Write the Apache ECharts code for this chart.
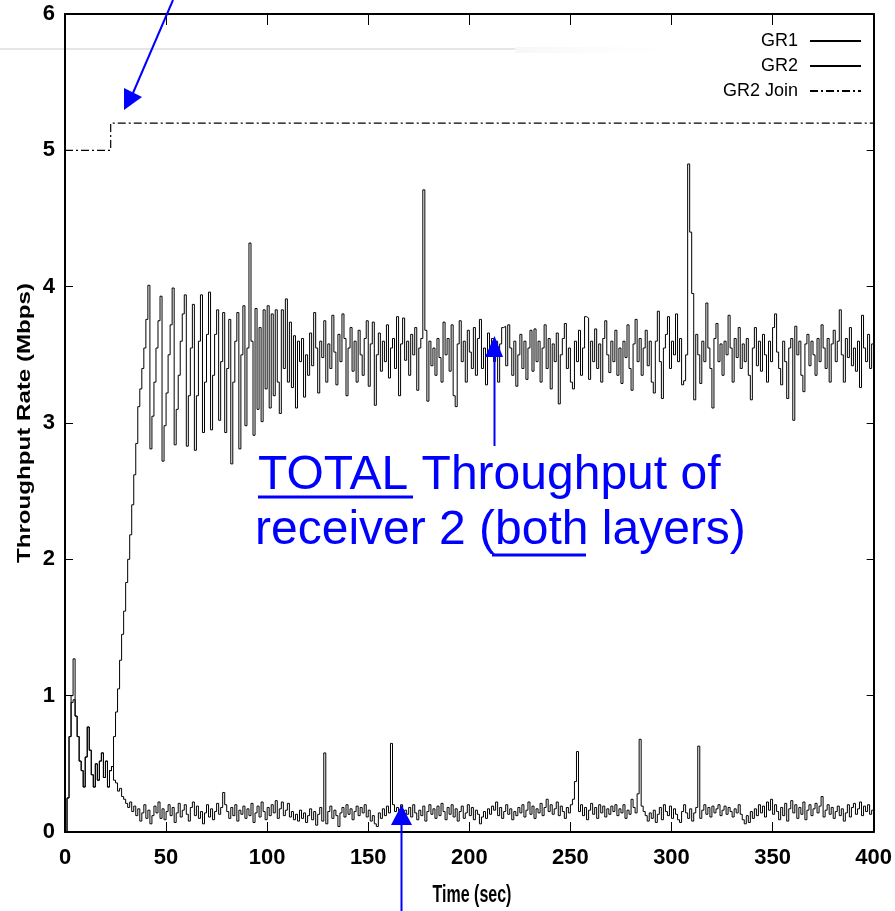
<!DOCTYPE html>
<html>
<head>
<meta charset="utf-8">
<script src="https://cdn.jsdelivr.net/npm/echarts@6/dist/echarts.min.js"></script>
<style>
html, body { margin: 0; padding: 0; background: #fff; }
#chart { width: 895px; height: 911px; }
</style>
</head>
<body>
<div id="chart"></div>
<script>
// one sample per second, t = 0 .. 400
const STEP = 1;

const gr1 = [
  0, 0.25, 0.7, 1.0, 1.27, 0.85, 0.7, 0.52, 0.45, 0.33,
  0.55, 0.77, 0.6, 0.42, 0.33, 0.5, 0.38, 0.52, 0.58, 0.4,
  0.52, 0.33, 0.45, 0.48, 0.38, 0.36, 0.3, 0.32, 0.26, 0.24,
  0.21, 0.18, 0.22, 0.15, 0.19, 0.12, 0.17, 0.08, 0.14, 0.2,
  0.1, 0.16, 0.06, 0.12, 0.19, 0.14, 0.22, 0.1, 0.17, 0.09,
  0.15, 0.2, 0.12, 0.18, 0.07, 0.14, 0.21, 0.11, 0.16, 0.2,
  0.13, 0.08, 0.18, 0.22, 0.12, 0.19, 0.1, 0.15, 0.06, 0.14,
  0.2, 0.11, 0.17, 0.09, 0.15, 0.21, 0.13, 0.18, 0.29, 0.2,
  0.15, 0.1, 0.18, 0.12, 0.2, 0.08, 0.16, 0.13, 0.19, 0.1,
  0.17, 0.12, 0.21, 0.07, 0.14, 0.19, 0.11, 0.22, 0.15, 0.09,
  0.18, 0.12, 0.2, 0.14, 0.23, 0.1, 0.17, 0.22, 0.12, 0.16,
  0.21, 0.11, 0.15, 0.09, 0.13, 0.08, 0.16, 0.1, 0.14, 0.07,
  0.12, 0.17, 0.09, 0.15, 0.05, 0.13, 0.18, 0.08, 0.58, 0.06,
  0.15, 0.19, 0.1, 0.16, 0.12, 0.04, 0.14, 0.18, 0.11, 0.2,
  0.13, 0.17, 0.09, 0.15, 0.19, 0.12, 0.18, 0.14, 0.2, 0.11,
  0.16, 0.08, 0.12, 0.06, 0.04, 0.14, 0.1, 0.17, 0.12, 0.19,
  0.14, 0.65, 0.2, 0.15, 0.18, 0.12, 0.2, 0.09, 0.16, 0.13,
  0.18, 0.11, 0.2, 0.14, 0.09, 0.16, 0.12, 0.19, 0.08, 0.15,
  0.2, 0.13, 0.17, 0.1, 0.19, 0.12, 0.21, 0.15, 0.09, 0.18,
  0.13, 0.2, 0.11, 0.17, 0.08, 0.15, 0.19, 0.1, 0.14, 0.2,
  0.12, 0.18, 0.09, 0.16, 0.13, 0.06, 0.11, 0.15, 0.1, 0.17,
  0.13, 0.19, 0.16, 0.22, 0.12, 0.18, 0.1, 0.15, 0.2, 0.13,
  0.17, 0.09, 0.15, 0.12, 0.18, 0.14, 0.2, 0.11, 0.16, 0.22,
  0.13, 0.19, 0.1, 0.17, 0.14, 0.21, 0.12, 0.18, 0.24, 0.15,
  0.2, 0.13, 0.17, 0.22, 0.12, 0.19, 0.15, 0.1, 0.18, 0.14,
  0.2, 0.24, 0.37, 0.59, 0.15, 0.2, 0.12, 0.18, 0.09, 0.16,
  0.21, 0.13, 0.18, 0.1, 0.2, 0.14, 0.19, 0.11, 0.17, 0.13,
  0.19, 0.15, 0.2, 0.12, 0.17, 0.14, 0.2, 0.1, 0.16, 0.13,
  0.24, 0.18, 0.14, 0.28, 0.68, 0.19, 0.15, 0.12, 0.08, 0.14,
  0.1, 0.16, 0.07, 0.13, 0.18, 0.09, 0.2, 0.15, 0.12, 0.19,
  0.1, 0.17, 0.13, 0.09, 0.07, 0.15, 0.2, 0.14, 0.1, 0.17,
  0.08, 0.14, 0.18, 0.63, 0.1, 0.16, 0.2, 0.13, 0.18, 0.11,
  0.19, 0.14, 0.17, 0.2, 0.12, 0.16, 0.19, 0.13, 0.18, 0.15,
  0.11, 0.17, 0.14, 0.2, 0.13, 0.09, 0.06, 0.12, 0.07, 0.15,
  0.1, 0.17, 0.12, 0.2, 0.14, 0.19, 0.11, 0.22, 0.16, 0.24,
  0.13, 0.2, 0.15, 0.09, 0.18, 0.12, 0.21, 0.08, 0.17, 0.23,
  0.14, 0.2, 0.1, 0.18, 0.13, 0.22, 0.09, 0.16, 0.2, 0.12,
  0.17, 0.21, 0.14, 0.19, 0.26, 0.11, 0.16, 0.2, 0.13, 0.18,
  0.1, 0.15, 0.19, 0.12, 0.17, 0.08, 0.14, 0.2, 0.11, 0.18,
  0.21, 0.13, 0.17, 0.22, 0.12, 0.19, 0.15, 0.2, 0.13, 0.16,
  0.14
];

const gr2 = [
  0, 0.25, 0.7, 0.95, 0.97, 0.85, 0.7, 0.52, 0.45, 0.33,
  0.55, 0.77, 0.6, 0.42, 0.33, 0.5, 0.38, 0.52, 0.58, 0.4,
  0.52, 0.33, 0.45, 0.48, 0.7, 0.88, 1.05, 1.26, 1.45, 1.62,
  1.83, 2.0, 2.18, 2.4, 2.62, 2.85, 3.12, 3.25, 3.4, 3.55,
  3.76, 4.01, 2.81, 3.05, 3.3, 3.55, 3.75, 3.93, 2.72, 2.98,
  3.22, 3.5, 3.72, 3.99, 2.84, 3.1, 3.35, 3.6, 3.8, 3.94,
  2.83, 3.2, 3.55, 3.87, 2.8, 3.2, 3.6, 3.94, 2.93, 3.3,
  3.65, 3.96, 2.95, 3.35, 3.65, 3.83, 3.02, 3.45, 3.81, 2.93,
  3.4, 3.76, 2.7, 3.3, 3.6, 3.81, 2.81, 3.5, 3.86, 2.98,
  3.55, 4.32, 3.6, 2.91, 3.84, 3.1, 3.7, 3.01, 3.83, 3.25,
  3.86, 3.11, 3.8, 3.2, 3.83, 3.3, 3.07, 3.83, 3.4, 3.91,
  3.3, 3.74, 3.26, 3.64, 3.11, 3.6, 3.45, 3.62, 3.19, 3.5,
  3.35, 3.66, 3.42, 3.81, 3.55, 3.22, 3.6, 3.48, 3.75, 3.3,
  3.58, 3.4, 3.79, 3.52, 3.28, 3.65, 3.45, 3.8, 3.62, 3.2,
  3.55, 3.7, 3.38, 3.6, 3.3, 3.68, 3.5, 3.35, 3.62, 3.75,
  3.27, 3.58, 3.74, 3.13, 3.5, 3.66, 3.38, 3.6, 3.45, 3.72,
  3.33, 3.55, 3.62, 3.4, 3.78, 3.2, 3.58, 3.77, 3.46, 3.6,
  3.35, 3.65, 3.5, 3.7, 3.24, 3.55, 3.62, 4.71, 3.68, 3.16,
  3.6, 3.42, 3.55, 3.35, 3.62, 3.48, 3.3, 3.74, 3.5, 3.62,
  3.38, 3.72, 3.2, 3.12, 3.58, 3.75, 3.45, 3.6, 3.3, 3.68,
  3.52, 3.4, 3.7, 3.35, 3.62, 3.76, 3.4, 3.55, 3.28, 3.66,
  3.5, 3.62, 3.45, 3.6, 3.3, 3.58, 3.7, 3.71, 3.42, 3.72,
  3.55, 3.35, 3.6, 3.27, 3.5, 3.65, 3.4, 3.6, 3.32, 3.55,
  3.68, 3.38, 3.69, 3.45, 3.6, 3.3, 3.55, 3.72, 3.4, 3.62,
  3.25, 3.58, 3.45, 3.66, 3.14, 3.5, 3.62, 3.73, 3.4, 3.55,
  3.3, 3.25, 3.6, 3.45, 3.68, 3.35, 3.55, 3.78, 3.77, 3.32,
  3.6, 3.45, 3.69, 3.4, 3.58, 3.3, 3.62, 3.75, 3.5, 3.37,
  3.6, 3.45, 3.68, 3.35, 3.55, 3.29, 3.6, 3.48, 3.72, 3.4,
  3.24, 3.58, 3.76, 3.45, 3.62, 3.35, 3.55, 3.68, 3.42, 3.6,
  3.3, 3.22, 3.6, 3.82, 3.45, 3.18, 3.55, 3.65, 3.78, 3.4,
  3.6, 3.5, 3.8, 3.45, 3.62, 3.28, 3.31, 3.5, 4.9, 4.4,
  3.95, 3.17, 3.65, 3.5, 3.29, 3.6, 3.45, 3.88, 3.55, 3.4,
  3.11, 3.62, 3.73, 3.45, 3.58, 3.35, 3.6, 3.5, 3.79, 3.55,
  3.3, 3.62, 3.48, 3.7, 3.4, 3.58, 3.45, 3.62, 3.35, 3.17,
  3.55, 3.7, 3.42, 3.6, 3.38, 3.65, 3.5, 3.3, 3.6, 3.45,
  3.7, 3.8, 3.52, 3.4, 3.28, 3.6, 3.45, 3.18, 3.55, 3.62,
  3.02, 3.71, 3.5, 3.6, 3.35, 3.23, 3.58, 3.65, 3.42, 3.6,
  3.5, 3.35, 3.62, 3.45, 3.72, 3.55, 3.4, 3.62, 3.3, 3.58,
  3.68, 3.45, 3.6, 3.83, 3.5, 3.3, 3.62, 3.48, 3.7, 3.42,
  3.55, 3.38, 3.6, 3.26, 3.79, 3.55, 3.45, 3.65, 3.4, 3.58,
  3.32
];

// GR2 join marker (step up when receiver 2 joins the second layer)
const joinTime = [0, 22.6, 400];
const joinRate = [5, 5.2, 5.2];

const seriesNames = ['GR1', 'GR2', 'GR2 Join'];

const sans = "'Liberation Sans', Arial, sans-serif";
const blue = '#0000ff';

const toPairs = vals => vals.map((v, i) => [i * STEP, v]);

const chart = echarts.init(document.getElementById('chart'));

const axisLine = { show: true, onZero: false, lineStyle: { color: '#000', width: 2 } };
const tickLabel = { color: '#000', fontFamily: sans, fontWeight: 'bold', fontSize: 22 };

chart.setOption({
  animation: false,
  backgroundColor: '#fff',
  grid: { left: 65, right: 15, top: 14, bottom: 79, containLabel: false },
  legend: {
    data: seriesNames,
    orient: 'vertical',
    right: 33,
    top: 32,
    padding: 0,
    align: 'right',
    itemWidth: 51,
    itemHeight: 14,
    itemGap: 7,
    selectedMode: false,
    itemStyle: { opacity: 0 },
    textStyle: { fontFamily: sans, fontSize: 18, color: '#000', padding: [0, 7, 0, 0] }
  },
  xAxis: [
    {
      type: 'value', min: 0, max: 400, interval: 50, position: 'bottom',
      axisLine: axisLine,
      axisTick: { inside: true, length: 10, lineStyle: { color: '#000', width: 1 } },
      axisLabel: Object.assign({ margin: 15 }, tickLabel),
      splitLine: { show: false }
    },
    {
      type: 'value', min: 0, max: 400, interval: 50, position: 'top',
      axisLine: axisLine,
      axisTick: { inside: true, length: 11, lineStyle: { color: '#000', width: 1 } },
      axisLabel: { show: false },
      splitLine: { show: false }
    }
  ],
  yAxis: [
    {
      type: 'value', min: 0, max: 6, interval: 1, position: 'left',
      axisLine: axisLine,
      axisTick: { inside: true, length: 8, lineStyle: { color: '#000', width: 1 } },
      axisLabel: Object.assign({ margin: 10 }, tickLabel),
      splitLine: { show: false }
    },
    {
      type: 'value', min: 0, max: 6, interval: 1, position: 'right',
      axisLine: axisLine,
      axisTick: { inside: true, length: 7, lineStyle: { color: '#000', width: 1 } },
      axisLabel: { show: false },
      splitLine: { show: false }
    }
  ],
  series: [
    {
      name: 'GR1', type: 'line', step: 'end', symbol: 'none',
      data: toPairs(gr1),
      lineStyle: { color: '#000', width: 1 }, itemStyle: { color: '#000' }
    },
    {
      name: 'GR2', type: 'line', step: 'end', symbol: 'none',
      data: toPairs(gr2),
      lineStyle: { color: '#000', width: 1 }, itemStyle: { color: '#000' }
    },
    {
      name: 'GR2 Join', type: 'line', step: 'end', symbol: 'none',
      data: joinTime.map((t, i) => [t, joinRate[i]]),
      lineStyle: { color: '#000', width: 1.2, type: [8, 3, 2, 3] }, itemStyle: { color: '#000' }
    }
  ],
  graphic: [
    // faint slide artefact line across the top
    { type: 'line', z: 0, shape: { x1: 0, y1: 49, x2: 515, y2: 49 }, style: { stroke: '#cccccc', lineWidth: 1 } },
    {
      type: 'rect', z: 0, shape: { x: 515, y: 47, width: 205, height: 6 },
      style: { fill: new echarts.graphic.LinearGradient(0, 0, 1, 0, [
        { offset: 0, color: 'rgba(235,235,235,0.4)' }, { offset: 1, color: 'rgba(255,255,255,0)' }]) }
    },
    // axis titles
    {
      type: 'text', x: 25, y: 423, rotation: Math.PI / 2, scaleX: 1.34, scaleY: 1, z: 50,
      style: { text: 'Throughput Rate (Mbps)', font: 'bold 18px ' + sans, fill: '#000',
        align: 'center', verticalAlign: 'middle', textAlign: 'center', textVerticalAlign: 'middle' }
    },
    {
      type: 'text', x: 472, y: 896, scaleX: 1, scaleY: 1.45, z: 50,
      style: { text: 'Time (sec)', font: 'bold 16px ' + sans, fill: '#000',
        align: 'center', verticalAlign: 'middle', textAlign: 'center', textVerticalAlign: 'middle' }
    },
    // blue annotation
    {
      type: 'text', x: 258, y: 476, z: 60,
      style: { text: 'TOTAL Throughput of', font: '48px ' + sans, fill: blue,
        align: 'left', verticalAlign: 'middle', textAlign: 'left', textVerticalAlign: 'middle' }
    },
    {
      type: 'text', x: 255, y: 531, z: 60,
      style: { text: 'receiver 2 (both layers)', font: '48px ' + sans, fill: blue,
        align: 'left', verticalAlign: 'middle', textAlign: 'left', textVerticalAlign: 'middle' }
    },
    { type: 'line', z: 60, shape: { x1: 258, y1: 497, x2: 413, y2: 497 }, style: { stroke: blue, lineWidth: 3 } },
    { type: 'line', z: 60, shape: { x1: 492, y1: 555, x2: 586, y2: 555 }, style: { stroke: blue, lineWidth: 3 } },
    // arrows
    { type: 'line', z: 60, shape: { x1: 173, y1: 0, x2: 133, y2: 93 }, style: { stroke: blue, lineWidth: 2 } },
    { type: 'polygon', z: 60, shape: { points: [[124, 88], [142, 97], [124, 110]] }, style: { fill: blue } },
    { type: 'line', z: 60, shape: { x1: 494.5, y1: 357, x2: 494.5, y2: 446 }, style: { stroke: blue, lineWidth: 2 } },
    { type: 'polygon', z: 60, shape: { points: [[485, 357], [503, 357], [494.5, 336]] }, style: { fill: blue } },
    { type: 'line', z: 60, shape: { x1: 401.5, y1: 825, x2: 401.5, y2: 911 }, style: { stroke: blue, lineWidth: 2 } },
    { type: 'polygon', z: 60, shape: { points: [[391, 825], [412, 825], [401.5, 805]] }, style: { fill: blue } }
  ]
});
</script>
</body>
</html>
